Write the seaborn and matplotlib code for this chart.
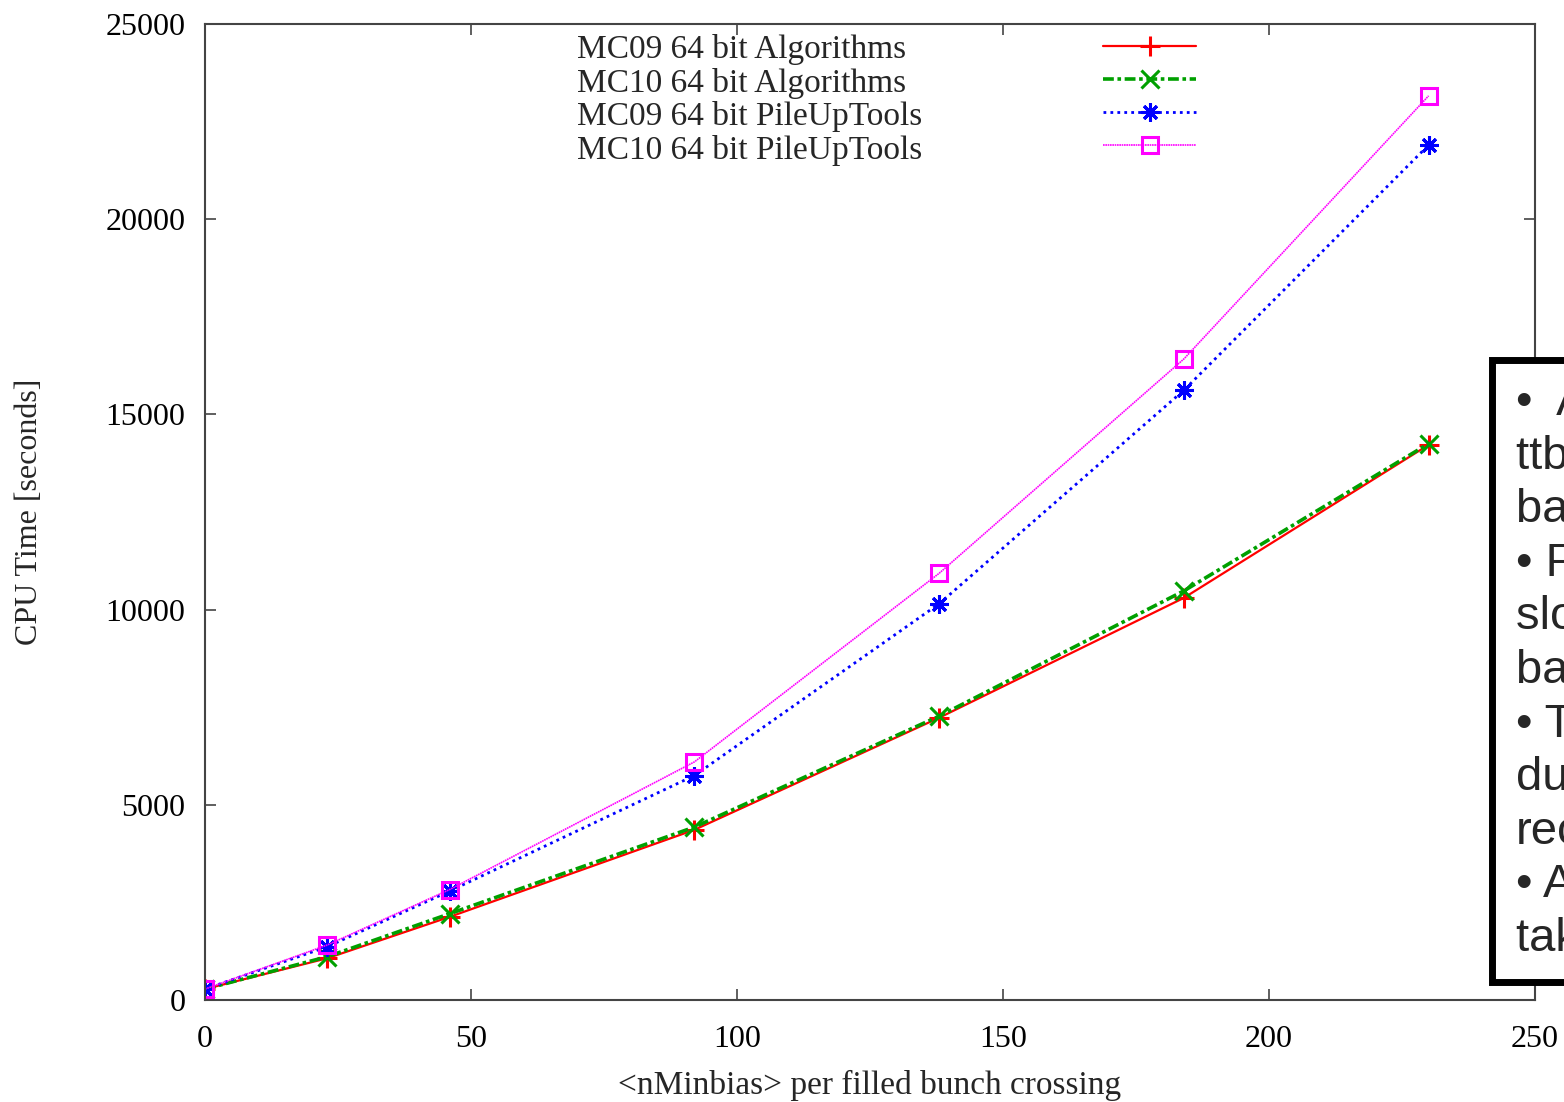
import matplotlib
matplotlib.use("Agg")
import matplotlib.pyplot as plt
from matplotlib.patches import Rectangle
import seaborn as sns

# <nMinbias> per filled bunch crossing
nminbias = [0, 23, 46, 92, 138, 184, 230]

# CPU time in seconds
mc09_alg = [280, 1070, 2130, 4360, 7230, 10300, 14220]
mc10_alg = [280, 1110, 2210, 4430, 7270, 10480, 14250]
mc09_put = [280, 1365, 2790, 5750, 10150, 15620, 21900]
mc10_put = [280, 1410, 2830, 6100, 10930, 16420, 23160]

labels = ["MC09 64 bit Algorithms", "MC10 64 bit Algorithms",
          "MC09 64 bit PileUpTools", "MC10 64 bit PileUpTools"]

x_ticks = [0, 50, 100, 150, 200, 250]
y_ticks = [0, 5000, 10000, 15000, 20000, 25000]

box_lines = ["\u2022  Average CPU time per", "ttbar event with pileup", "background events",
             "\u2022 For PileUpTools a", "slower scaling with", "background level",
             "\u2022 The difference is", "due to the", "reconstruction",
             "\u2022 All numbers", "taken on lxplus"]

sns.set_theme(style="ticks")
plt.rcParams["font.family"] = ["Liberation Serif", "DejaVu Serif"]

W, H = 1564, 1102
fig = plt.figure(figsize=(W / 100, H / 100), dpi=100)
ax = fig.add_axes([205 / W, 102 / H, 1330 / W, 976 / H])

styles = [
    ("#ff0000", "-", "+", 1.6, 14),
    ("#00a000", (0, (3, 1, 1, 1)), "x", 2.6, 13),
    ("#0000ff", (0, (1, 1.5)), (8, 2, 0), 2.0, 13),
    ("#ff00ff", (0, (1, 0.4)), "s", 1.2, 12),
]
for vals, lab, (color, ls, marker, lw, ms) in zip(
        [mc09_alg, mc10_alg, mc09_put, mc10_put], labels, styles):
    sns.lineplot(x=nminbias, y=vals, ax=ax, color=color, linestyle=ls, lw=lw,
                 marker=marker, ms=ms, mec=color, mew=2.2, mfc="none", label=lab)

ax.set_xlim(0, 250)
ax.set_ylim(0, 25000)
ax.set_xticks(x_ticks)
ax.set_yticks(y_ticks)
for sp in ax.spines.values():
    sp.set_color("#444444")
    sp.set_linewidth(1.5)
ax.tick_params(direction="in", length=8, width=1.2, color="#444444",
               top=True, right=True, labelsize=23, labelcolor="black")
ax.tick_params(axis="x", pad=18)
ax.tick_params(axis="y", pad=14)

ax.set_xlabel("<nMinbias> per filled bunch crossing", fontsize=24)
ax.xaxis.set_label_coords(0.5, -0.072)
ax.set_ylabel("CPU Time [seconds]", fontsize=23)
ax.yaxis.set_label_coords(-0.121, 0.5)

# gnuplot-style key: left-aligned labels, samples in a column to the right
handles, labs = ax.get_legend_handles_labels()
key_opts = dict(loc="upper left", bbox_transform=fig.transFigure, frameon=False,
                fontsize=24, labelspacing=0.08, borderpad=0, borderaxespad=0,
                numpoints=1)
key_text = ax.legend(handles, labs, bbox_to_anchor=(577 / W, 1 - 34 / H),
                     handlelength=0, handletextpad=0, **key_opts)
for h in key_text.legend_handles:
    h.set_visible(False)
ax.add_artist(key_text)
ax.legend(handles, [" "] * len(handles), bbox_to_anchor=(1103 / W, 1 - 34 / H),
          handlelength=2.8, handletextpad=0, **key_opts)

# text box on the right, cut by the figure edge
fig.add_artist(Rectangle((1492 / W, 1 - 982 / H), 0.2, (982 - 360) / H,
                         transform=fig.transFigure, facecolor="white",
                         edgecolor="black", lw=5, zorder=10))
for i, line in enumerate(box_lines):
    fig.text(1516 / W, 1 - (415 + i * 53.6) / H, line, fontsize=34,
             family="Liberation Sans", va="baseline", ha="left", zorder=11)

fig.savefig("out.png", dpi=100)
